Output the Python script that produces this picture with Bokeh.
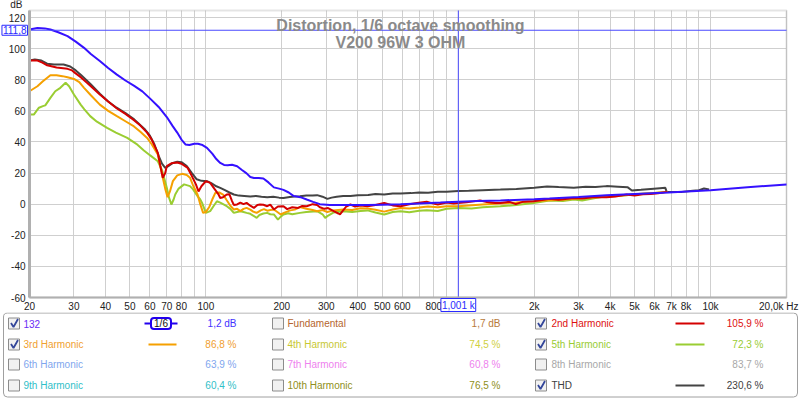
from bokeh.plotting import figure
from bokeh.models import Range1d, FixedTicker, Label, BoxAnnotation, ColumnDataSource
from bokeh.layouts import column
from bokeh.embed import file_html
from bokeh.resources import INLINE
from bokeh.core.properties import value

FONT = "Liberation Sans"
W = 800

# ---------------- data ----------------
f_132 = [20, 21.5, 23, 24.2, 26, 28.3, 30.5, 32.9, 35, 38, 41, 44.4, 48, 52, 56, 60, 65, 70, 74, 77, 80, 83,
         86, 90, 93, 97, 101, 106, 110, 114, 118, 122, 127, 133, 139, 145, 150, 155, 162, 169, 177, 186, 195,
         203, 213, 223, 237, 251, 266, 283, 310, 350, 437, 500, 591, 700, 850, 1000, 1200, 1470, 2000, 2300,
         3000, 3870, 5000, 6820, 10000, 14000, 20000]
db_132 = [112.3, 113.2, 113.0, 112.3, 110.5, 108, 104.5, 100.5, 96.5, 92, 87.5, 83.3, 79.5, 76, 72.5, 68, 62.5,
          56, 50, 46, 41.5, 38.4, 38, 38.8, 38.8, 38, 36.2, 32.5, 29, 26.5, 25.2, 25, 25.3, 24.4, 22, 19.8, 17.5,
          16.8, 16.8, 16.5, 14, 10.8, 10, 9.2, 7.5, 5.2, 4.5, 3, 1.5, 0, -0.5, -0.6, -0.6, -0.3, 0, 0.5, 1.0, 1.5,
          2.0, 2.4, 3.2, 3.6, 4.6, 5.8, 6.6, 7.5, 9.0, 10.8, 12.7]

f_thd = [20, 21, 22.3, 23.5, 25, 27.3, 29, 30.5, 32, 34.8, 38, 41, 44.3, 48, 52, 57, 60, 62.5, 65, 67, 69, 71,
         74, 77, 80, 84, 88, 92, 96, 101, 105, 110, 114, 119, 124, 129, 135, 142, 150, 158, 166, 175, 185, 195,
         203, 215, 225, 236, 250, 265, 276, 290, 303, 315, 330, 350, 374, 400, 440, 470, 509, 550, 591, 650,
         700, 760, 830, 900, 1000, 1100, 1250, 1470, 1700, 2000, 2250, 2500, 2870, 3200, 3500, 3870, 4300,
         4700, 4880, 5300, 5800, 6300, 6620, 6700, 7300, 7700, 8500, 9000, 9420, 9870]
db_thd = [92.3, 93, 92.3, 90.3, 89.8, 89.8, 88.5, 86, 83, 77.5, 71, 66, 62, 58.5, 54.5, 48.5, 44, 38.5, 31, 26,
          23.3, 24.5, 26.5, 27.3, 27, 24.5, 20, 16, 15, 14.8, 13.5, 11.5, 10.5, 9, 7.5, 6.2, 5.5, 5.3, 5, 5.3,
          4.7, 4.5, 4.8, 4.2, 4, 4.6, 5.0, 5.1, 5.6, 5.5, 5.8, 4.8, 3.4, 4.2, 4.8, 5.2, 5.3, 5.8, 5.9, 6.6, 6.2,
          6.8, 6.9, 7.1, 7.5, 7.3, 8.0, 8.0, 8.4, 8.6, 9.0, 9.4, 9.8, 10.6, 11.4, 11.0, 10.6, 11.2, 11.0, 11.6,
          11.2, 10.8, 8.8, 9.2, 9.8, 10.3, 10.5, 7.9, 7.8, 7.9, 8.6, 9.0, 10.1, 9.4]

f_h2 = [20, 21.5, 22.5, 23.5, 25.6, 28.3, 29.5, 30.3, 32, 33.8, 38, 41, 44.4, 48, 51.9, 55, 58.5, 61, 64.5, 66,
        67.5, 69, 70, 73, 77, 80, 84.7, 88, 91.3, 93.5, 96, 100, 104, 108, 112, 114, 117, 121, 124, 127, 129,
        133, 137, 141, 145, 150, 155, 160, 164, 169, 175, 180, 186, 193, 203, 210, 220, 232, 240, 251, 265,
        276, 283, 295, 305, 321, 335, 340, 350, 360, 374, 390, 410, 437, 470, 509, 550, 591, 640, 687, 750,
        790, 830, 900, 960, 1000, 1080, 1150, 1220, 1300, 1400, 1470, 1600, 1690, 1800, 1990, 2150, 2300,
        2500, 2870, 3100, 3400, 3870, 4200, 4650, 5000, 5400, 5780, 6200, 6740]
db_h2 = [92.3, 92.3, 91, 89.3, 87.8, 87, 86, 84.4, 81.5, 78, 70.5, 66, 61.5, 58, 54, 50.5, 46, 41.5, 33, 24.5,
         17, 20, 24.4, 26.3, 26.8, 26, 23.3, 18, 12.7, 8.2, 11.5, 14.8, 13.7, 10, 6.5, 4, 4.5, 6.2, 6.3, 2.0,
         -0.5, -0.2, 1, 0, 0.8, -1.0, -2.4, -0.5, -0.2, -0.4, -1.3, -0.3, -3.4, -1.5, -1.3, -3.2, -2.0, -2.4,
         -1.2, -1.3, 0.0, -0.5, -2.0, -3.0, -2.5, -4.5, -6.0, -6.6, -4.0, -1.5, -0.2, -1.5, -0.8, -1.3, -0.5,
         0.8, -0.8, -1.3, 0, 0.8, 1.5, 0.5, -0.2, 1.0, 0.5, 0.8, 1.2, 1.8, 2.4, 1.4, 0.8, 0.8, 1.5, 0, 1.5, 1.9,
         2.6, 3.4, 2.8, 4.0, 3.6, 4.4, 4.5, 5.0, 6.2, 5.6, 6.4, 6.6, 7.0, 7.9]

f_h3 = [20, 21.5, 22.6, 24.2, 25.6, 27, 28.3, 30, 31.5, 32.9, 35, 38, 41, 44.4, 48, 51.9, 55, 58.5, 61, 64.5,
        67.5, 69, 70.5, 72, 74, 77, 80.5, 84, 86.5, 89, 92.7, 95, 97.5, 100, 103, 106, 109, 113, 117, 121, 125,
        129, 133, 137, 141, 145, 150, 154, 159, 165, 170, 175, 180, 186, 192, 198, 205, 216, 225, 236, 250,
        265, 276, 290, 303, 320, 350, 380, 410, 437, 470, 509, 550, 591, 640, 700, 760, 830, 900, 1000, 1100,
        1250, 1470, 1700, 2000, 2300, 2600, 3000, 3500, 4000, 4600, 5200, 6000, 6740]
db_h3 = [72.6, 75.8, 79, 82.9, 82.9, 82.3, 81.6, 80.5, 78.5, 74.8, 70, 64, 60, 56.6, 53.3, 50, 46.5, 42.6, 38.5,
         32, 17, 10, 4.5, 8, 14.8, 18.5, 19.5, 18.8, 17, 12, 6.2, 0, -5.6, -5.0, -2.0, 3.0, 7.3, 7.5, 6.2, 2.5,
         -1.0, -3.4, -3.0, -4.5, -3.0, -2.4, -3.5, -4.8, -5.6, -4.0, -3.2, -4.2, -3.8, -3.4, -5.0, -6.6, -5.4,
         -4.0, -3.5, -1.9, -3.0, -3.8, -4.5, -3.8, -5.0, -4.0, -3.4, -3.8, -2.6, -2.8, -3.6, -4.8, -3.4, -2.4,
         -2.8, -2.2, -1.5, -2.0, -1.4, -1.3, -0.8, -0.2, 0.5, 1.0, 1.8, 2.5, 2.8, 3.6, 4.4, 5.0, 5.8, 6.6, 7.2,
         8.0]

f_h5 = [20, 20.8, 21.8, 22.6, 23.1, 24.2, 25.3, 26.5, 27.8, 28.7, 30, 31.9, 33, 34.8, 37, 40.6, 44, 48.8, 53,
        56.8, 60, 64.5, 67, 70, 71.5, 73, 74.5, 75.6, 78, 82, 86.5, 89, 92.7, 95, 96.5, 100, 104, 107, 110.6,
        114, 117, 121, 125, 129, 133, 137, 141, 145, 150, 159, 163, 169, 175, 180, 186, 193, 198, 203, 212,
        220, 236, 250, 276, 290, 297, 303, 320, 350, 380, 410, 437, 470, 509, 550, 591, 640, 700, 750, 830,
        900, 1000, 1130, 1250, 1470, 1700, 1990, 2300, 2600, 2870, 3100, 3500, 3870, 4500, 5200, 6000, 6740]
db_h5 = [57.6, 57.6, 62, 63, 63.5, 68.3, 72.6, 74.8, 78, 75.8, 70.5, 64, 61, 56.6, 53, 49, 46, 42.6, 38.8, 34.5,
         31.5, 27.6, 22, 10.5, 4, -0.2, 3, 6.2, 10, 12.7, 11.6, 9.5, 5.1, 3.0, 1, -5.6, -4.5, -1.5, 1.9, 1.0, 0,
         -1.3, -3.0, -5.6, -5.0, -4.5, -5.0, -5.6, -6.2, -8.8, -7.0, -6.0, -5.6, -6.5, -6.6, -9.9, -8.0, -6.6,
         -5.8, -6.5, -5.6, -5.0, -4.5, -6.5, -8.8, -7.7, -5.4, -4.5, -5.0, -4.4, -4.0, -5.4, -6.6, -5.0, -4.5,
         -5.2, -4.3, -3.9, -4.4, -3.0, -2.4, -2.8, -2.0, -1.3, -0.6, 0.8, 2.4, 2.0, 3.0, 2.4, 4.0, 5.1, 5.6, 6.6,
         7.2, 7.9]

cursor_freq = 1001
cursor_db = 111.8

f_min, f_max = 20, 20000
db_bot, db_top = -60, 124.5

grid_x = [20, 30, 40, 50, 60, 70, 80, 90, 100, 200, 300, 400, 500, 600, 700, 800, 900, 1000,
          2000, 3000, 4000, 5000, 6000, 7000, 8000, 9000, 10000, 20000]
x_ticks = [20, 30, 40, 50, 60, 70, 80, 100, 200, 300, 400, 500, 600, 800,
           2000, 3000, 4000, 5000, 6000, 7000, 8000, 10000]
x_tick_labels = ["20", "30", "40", "50", "60", "70", "80", "100", "200", "300", "400", "500", "600",
                 "800", "2k", "3k", "4k", "5k", "6k", "7k", "8k", "10k"]
grid_y = [-60, -40, -20, 0, 20, 40, 60, 80, 100, 120]
y_ticks = [-60, -40, -20, 0, 20, 40, 60, 80, 100, 120]
y_tick_labels = ["-60", "-40", "-20", "0", "20", "40", "60", "80", "100", "120"]

legend_names = [["132", "3rd Harmonic", "6th Harmonic", "9th Harmonic"],
                ["Fundamental", "4th Harmonic", "7th Harmonic", "10th Harmonic"],
                ["2nd Harmonic", "5th Harmonic", "8th Harmonic", "THD"]]
legend_values = [["1,2 dB", "86,8 %", "63,9 %", "60,4 %"],
                 ["1,7 dB", "74,5 %", "60,8 %", "76,5 %"],
                 ["105,9 %", "72,3 %", "83,7 %", "230,6 %"]]
legend_checked = [[True, True, False, False],
                  [False, False, False, False],
                  [True, True, False, True]]
legend_text_colors = [["#6a2cf5", "#f0a030", "#7fa6ee", "#30c0c8"],
                      ["#b5652e", "#c8c832", "#ee82ee", "#8f8f20"],
                      ["#dd1010", "#99cc33", "#a8a8a8", "#404040"]]
legend_value_colors = [["#4433ff", "#f0a030", "#7fa6ee", "#30c0c8"],
                       ["#b87a3a", "#d0d040", "#ee82ee", "#8f8f20"],
                       ["#dd1010", "#99cc33", "#a8a8a8", "#404040"]]

C_132 = "#3511ff"
C_THD = "#444444"
C_H2 = "#d40000"
C_H3 = "#f5a000"
C_H5 = "#9acd32"
C_CURSOR = "#4b4bff"
C_CURSOR_TXT = "#2a2aff"
C_GRID = "#cfcfcf"
C_FRAME = "#a6a6a6"

# ---------------- geometry of the main canvas ----------------
H_MAIN = 312
X_PX0, X_PX1 = 29, 786          # chart area, left/right pixel
Y_PX_TOP, Y_PX_BOT = 10, 297    # chart area, top/bottom pixel
px_per_dec = (X_PX1 - X_PX0) / 3.0
px_per_db = (Y_PX_BOT - Y_PX_TOP) / (db_top - db_bot)
x_start = f_min * 10 ** (-X_PX0 / px_per_dec)
x_end = f_min * 10 ** ((W - X_PX0) / px_per_dec)
y_end = db_top + Y_PX_TOP / px_per_db
y_start = db_bot - (H_MAIN - Y_PX_BOT) / px_per_db

p = figure(width=W, height=H_MAIN, x_axis_type="log",
           x_range=Range1d(x_start, x_end), y_range=Range1d(y_start, y_end),
           output_backend="svg", toolbar_location=None, min_border=0)
p.title.visible = False
p.background_fill_color = "white"
p.border_fill_color = "white"
p.outline_line_color = None

# axes drawn at the chart edges inside the canvas
p.xaxis.fixed_location = db_bot
p.yaxis.fixed_location = f_min
p.xaxis.bounds = (f_min, f_max)
p.yaxis.bounds = (db_bot, db_top)
p.xaxis.ticker = FixedTicker(ticks=x_ticks, minor_ticks=[])
p.xaxis.major_label_overrides = {t: l for t, l in zip(x_ticks, x_tick_labels)}
p.yaxis.ticker = FixedTicker(ticks=y_ticks, minor_ticks=[])
p.yaxis.major_label_overrides = {t: l for t, l in zip(y_ticks, y_tick_labels)}
for ax in (p.xaxis, p.yaxis):
    ax.major_tick_line_color = None
    ax.minor_tick_line_color = None
    ax.major_tick_out = 0
    ax.major_tick_in = 0
    ax.major_label_text_font = FONT
    ax.major_label_text_font_size = "10px"
    ax.major_label_text_color = "#222222"
    ax.axis_line_color = "#b0b0b0"
p.yaxis.axis_line_width = 3
p.xaxis.axis_line_width = 2
p.yaxis.major_label_standoff = 4
p.xaxis.major_label_standoff = 3

# grid limited to the chart area
try:
    p.xgrid.cross_bounds = (db_bot, db_top)
    p.ygrid.cross_bounds = (f_min, f_max)
    p.xgrid.ticker = FixedTicker(ticks=grid_x, minor_ticks=[])
    p.ygrid.ticker = FixedTicker(ticks=grid_y, minor_ticks=[])
    p.grid.grid_line_color = C_GRID
    p.grid.grid_line_width = 1
except AttributeError:
    p.grid.visible = False
    p.segment(x0=grid_x, y0=[db_bot] * len(grid_x), x1=grid_x, y1=[db_top] * len(grid_x),
              line_color=C_GRID, line_width=1, level="underlay")
    p.segment(x0=[f_min] * len(grid_y), y0=grid_y, x1=[f_max] * len(grid_y), y1=grid_y,
              line_color=C_GRID, line_width=1, level="underlay")

p.add_layout(BoxAnnotation(left=f_min, right=f_max, bottom=db_bot, top=db_top,
                           fill_alpha=0, line_color=C_FRAME, line_width=2, level="underlay"))

p.line(f_thd, db_thd, line_color=C_THD, line_width=2)
p.line(f_h5, db_h5, line_color=C_H5, line_width=2)
p.line(f_h3, db_h3, line_color=C_H3, line_width=2)
p.line(f_h2, db_h2, line_color=C_H2, line_width=2)
p.line(f_132, db_132, line_color=C_132, line_width=2)

# cursor
p.segment(x0=[cursor_freq], y0=[db_bot], x1=[cursor_freq], y1=[db_top], line_color=C_CURSOR, line_width=1)
p.segment(x0=[f_min], y0=[cursor_db], x1=[f_max], y1=[cursor_db], line_color=C_CURSOR, line_width=1)

title_freq = 590
p.add_layout(Label(x=title_freq, y=db_top, y_offset=-15, text="Distortion, 1/6 octave smoothing",
                   text_align="center", text_baseline="alphabetic", text_font=FONT,
                   text_font_size="16px", text_font_style="bold", text_color="#8a8a8a"))
p.add_layout(Label(x=title_freq, y=db_top, y_offset=-32, text="V200 96W 3 OHM",
                   text_align="center", text_baseline="alphabetic", text_font=FONT,
                   text_font_size="16px", text_font_style="bold", text_color="#8a8a8a"))

p.add_layout(Label(x=f_min, y=db_top, x_offset=-7, y_offset=1, text="dB", text_align="right",
                   text_baseline="bottom", text_font=FONT, text_font_size="10px", text_color="#222222"))
p.add_layout(Label(x=f_min, y=cursor_db, x_offset=-2, text="111,8", text_align="right",
                   text_baseline="middle", text_font=FONT, text_font_size="10px", text_color=C_CURSOR_TXT,
                   border_line_color=C_CURSOR_TXT, border_line_width=1, background_fill_color="white",
                   padding=1))
p.add_layout(Label(x=cursor_freq, y=db_bot, y_offset=-1, text="1,001 k", text_align="center",
                   text_baseline="top", text_font=FONT, text_font_size="10px", text_color=C_CURSOR_TXT,
                   border_line_color=C_CURSOR_TXT, border_line_width=1, background_fill_color="white",
                   padding=1))
p.add_layout(Label(x=f_max, y=db_bot, x_offset=12, y_offset=-3, text="20,0k Hz", text_align="right",
                   text_baseline="top", text_font=FONT, text_font_size="10px", text_color="#222222"))

# ---------------- legend panel ----------------
LH = 86
lg = figure(width=W, height=LH, x_range=Range1d(0, W), y_range=Range1d(LH, 0),
            output_backend="svg", toolbar_location=None, x_axis_location=None, y_axis_location=None,
            min_border=0)
lg.title.visible = False
lg.grid.visible = False
lg.outline_line_color = None
lg.background_fill_color = "white"
lg.border_fill_color = "white"

lg.quad(left=[3], right=[797], top=[0.5], bottom=[84.5], fill_color=None,
        line_color="#a0a0a0", line_width=1, border_radius=4)

row_y = [11, 32, 52, 73]
box_x = [8, 272, 535]
label_x = [23, 287, 551]
value_right = [236, 500, 763]
sample_x = [(148, 176), None, (675, 704)]

cb_x, cb_y, tx, ty, tt, tc, vx, vy, vt, vc = [], [], [], [], [], [], [], [], [], []
chk_xs, chk_ys = [], []
for c in range(3):
    for r in range(4):
        y = row_y[r]
        cb_x.append(box_x[c] + 5.5)
        cb_y.append(y)
        tx.append(label_x[c]); ty.append(y); tt.append(legend_names[c][r]); tc.append(legend_text_colors[c][r])
        vx.append(value_right[c]); vy.append(y); vt.append(legend_values[c][r]); vc.append(legend_value_colors[c][r])
        if legend_checked[c][r]:
            x0 = box_x[c]
            chk_xs.append([x0 + 2.5, x0 + 5, x0 + 9.5])
            chk_ys.append([y - 0.5, y + 3.5, y - 4.5])

lg.rect(x=cb_x, y=cb_y, width=11, height=11, fill_color="#f1f1f1", line_color="#8c8c8c", line_width=1)
lg.multi_line(xs=chk_xs, ys=chk_ys, line_color="#34479a", line_width=1.8)

lg.text(x="x", y="y", text="t", text_color="c",
        source=ColumnDataSource(dict(x=tx, y=ty, t=tt, c=tc)),
        text_align="left", text_baseline="middle", text_font=value(FONT), text_font_size=value("10px"))
lg.text(x="x", y="y", text="t", text_color="c",
        source=ColumnDataSource(dict(x=vx, y=vy, t=vt, c=vc)),
        text_align="right", text_baseline="middle", text_font=value(FONT), text_font_size=value("10px"))

samples = [(0, 1, C_H3), (2, 0, C_H2), (2, 1, C_H5), (2, 3, C_THD)]
for c, r, col in samples:
    x0, x1 = sample_x[c]
    lg.line([x0, x1], [row_y[r], row_y[r]], line_color=col, line_width=2)

# smoothing icon (1/6 octave) at col 0 row 0
icon_x0, icon_x1 = 144, 177
sy = row_y[0]
lg.line([icon_x0, icon_x1], [sy, sy], line_color="#2200ee", line_width=2)
lg.rect(x=[(icon_x0 + icon_x1) / 2], y=[sy], width=20, height=11, fill_color="white",
        line_color="#2200ee", line_width=2, border_radius=3)
lg.text(x=[(icon_x0 + icon_x1) / 2], y=[sy], text=["1/6"], text_align="center", text_baseline="middle",
        text_font=value(FONT), text_font_size=value("10px"), text_color="#111111")

layout = column(p, lg, spacing=0)
open("out.html", "w").write(file_html(layout, INLINE))
